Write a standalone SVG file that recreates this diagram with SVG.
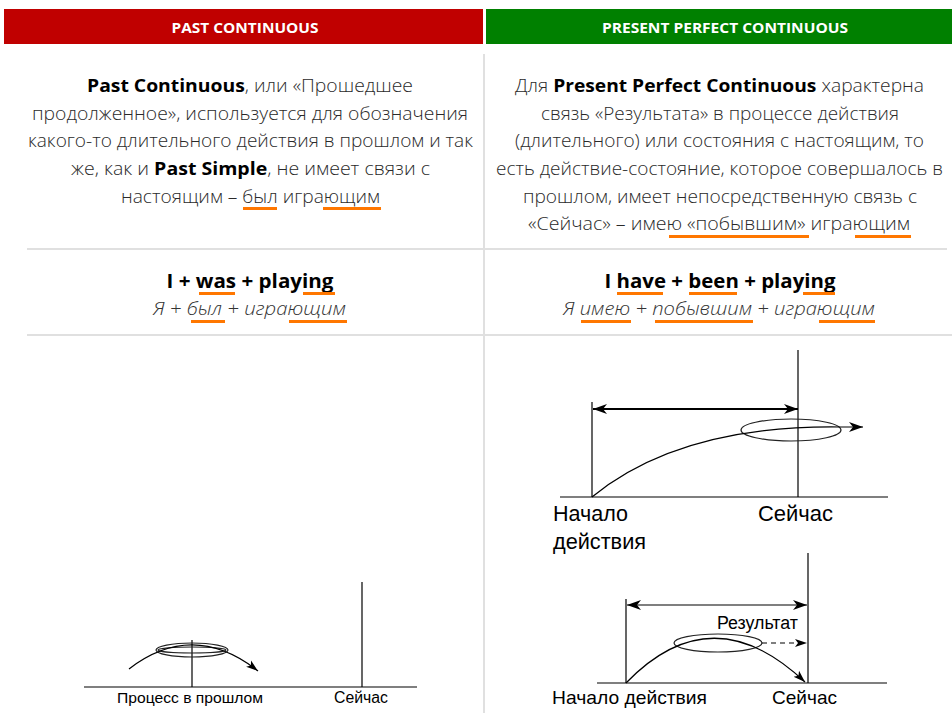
<svg xmlns="http://www.w3.org/2000/svg" width="952" height="713" viewBox="0 0 952 713">
<style>
.hdr{font-family:"Open Sans","Noto Sans",sans-serif;font-weight:bold;font-size:15px;fill:#fff;text-anchor:middle}
.body{font-family:"Open Sans","Noto Sans",sans-serif;font-size:18.5px;font-weight:300;fill:#2a2a2a;text-anchor:middle}
.b{font-weight:bold;fill:#000}
.f1{font-family:"Open Sans","Noto Sans",sans-serif;font-size:20px;font-weight:bold;fill:#000;text-anchor:middle}
.f2{font-family:"Open Sans","Noto Sans",sans-serif;font-size:19px;font-style:italic;font-weight:300;fill:#333;text-anchor:middle}
.ul{fill:#ff7700}
.sep{stroke:#e0e0e0;stroke-width:2;fill:none}
.ln{stroke:#000;stroke-width:1.2;fill:none}
.thk{stroke:#000;stroke-width:2;fill:none}
.ell{stroke:#222;stroke-width:1.2;fill:none}
.lbl{font-family:"Liberation Sans",Arial,sans-serif;fill:#000}
</style>
<defs>
<marker id="ah" markerUnits="userSpaceOnUse" markerWidth="16" markerHeight="12" refX="14" refY="5" orient="auto-start-reverse" viewBox="0 0 16 10">
<path d="M0,0 L14,5 L0,10 L4,5 Z" fill="#000"/>
</marker>
<marker id="ahs" markerUnits="userSpaceOnUse" markerWidth="13" markerHeight="10" refX="12" refY="4" orient="auto" viewBox="0 0 13 8">
<path d="M0,0 L12,4 L0,8 L3,4 Z" fill="#000"/>
</marker>
</defs>

<g id="header-left">
<rect x="4" y="9" width="479" height="35" fill="#c00000"/>
<text class="hdr" x="245" y="33" textLength="147" lengthAdjust="spacingAndGlyphs">PAST CONTINUOUS</text>
</g>
<g id="header-right">
<rect x="486" y="9" width="466" height="35" fill="#008000"/>
<text class="hdr" x="725" y="33" textLength="246" lengthAdjust="spacingAndGlyphs">PRESENT PERFECT CONTINUOUS</text>
</g>

<g id="grid">
<line class="sep" x1="484" y1="54" x2="484" y2="713"/>
<line class="sep" x1="27" y1="249" x2="483" y2="249"/>
<line class="sep" x1="485" y1="249" x2="947" y2="249"/>
<line class="sep" x1="27" y1="335" x2="952" y2="335"/>
</g>

<g id="desc-left">
<text class="body" x="250" y="92" textLength="326" lengthAdjust="spacingAndGlyphs"><tspan class="b">Past Continuous</tspan>, или «Прошедшее</text>
<text class="body" x="250" y="120" textLength="436" lengthAdjust="spacingAndGlyphs">продолженное», используется для обозначения</text>
<text class="body" x="250.5" y="147" textLength="445" lengthAdjust="spacingAndGlyphs">какого-то длительного действия в прошлом и так</text>
<text class="body" x="250.5" y="175" textLength="359" lengthAdjust="spacingAndGlyphs">же, как и <tspan class="b">Past Simple</tspan>, не имеет связи с</text>
<text class="body" x="250.5" y="203" textLength="259" lengthAdjust="spacingAndGlyphs">настоящим – был играющим</text>
<rect class="ul" x="243" y="207" width="34" height="3"/>
<rect class="ul" x="323" y="207" width="58" height="3"/>
</g>

<g id="desc-right">
<text class="body" x="719.5" y="92" textLength="409" lengthAdjust="spacingAndGlyphs">Для <tspan class="b">Present Perfect Continuous</tspan> характерна</text>
<text class="body" x="720" y="120" textLength="358" lengthAdjust="spacingAndGlyphs">связь «Результата» в процессе действия</text>
<text class="body" x="719.5" y="147" textLength="409" lengthAdjust="spacingAndGlyphs">(длительного) или состояния с настоящим, то</text>
<text class="body" x="719.5" y="175" textLength="447" lengthAdjust="spacingAndGlyphs">есть действие-состояние, которое совершалось в</text>
<text class="body" x="720" y="203" textLength="394" lengthAdjust="spacingAndGlyphs">прошлом, имеет непосредственную связь с</text>
<text class="body" x="719" y="230" textLength="382" lengthAdjust="spacingAndGlyphs">«Сейчас» – имею «побывшим» играющим</text>
<rect class="ul" x="669" y="235" width="140" height="3"/>
<rect class="ul" x="855" y="235" width="56" height="3"/>
</g>

<g id="formula-left">
<text class="f1" x="250" y="288" textLength="167" lengthAdjust="spacingAndGlyphs">I + was + playing</text>
<text class="f2" x="249.5" y="315" textLength="193" lengthAdjust="spacingAndGlyphs">Я + был + играющим</text>
<rect class="ul" x="199" y="292" width="36" height="3"/>
<rect class="ul" x="303" y="292" width="32" height="3"/>
<rect class="ul" x="191" y="320" width="34" height="3"/>
<rect class="ul" x="289" y="320" width="58" height="3"/>
</g>

<g id="formula-right">
<text class="f1" x="720" y="288" textLength="231" lengthAdjust="spacingAndGlyphs">I have + been + playing</text>
<text class="f2" x="719" y="315" textLength="312" lengthAdjust="spacingAndGlyphs">Я имею + побывшим + играющим</text>
<rect class="ul" x="617" y="292" width="46" height="3"/>
<rect class="ul" x="689" y="292" width="48" height="3"/>
<rect class="ul" x="803" y="292" width="32" height="3"/>
<rect class="ul" x="581" y="320" width="50" height="3"/>
<rect class="ul" x="655" y="320" width="98" height="3"/>
<rect class="ul" x="819" y="320" width="56" height="3"/>
</g>

<g id="diagram-past">
<line class="ln" x1="84" y1="687" x2="417" y2="687"/>
<line class="ln" x1="362" y1="582" x2="362" y2="687"/>
<line class="ln" x1="192" y1="640" x2="192" y2="687"/>
<ellipse class="ell" cx="192" cy="650" rx="36" ry="7"/>
<ellipse class="ell" cx="192" cy="650" rx="34" ry="3"/>
<path class="ln" d="M129,669 Q193,620 258,671" stroke-width="1" marker-end="url(#ahs)"/>
<text class="lbl" x="190" y="703" font-size="15.5" text-anchor="middle" textLength="146" lengthAdjust="spacingAndGlyphs">Процесс в прошлом</text>
<text class="lbl" x="361" y="703" font-size="16" text-anchor="middle" textLength="54" lengthAdjust="spacingAndGlyphs">Сейчас</text>
</g>

<g id="diagram-ppc-1">
<line class="ln" x1="560" y1="497" x2="888" y2="497"/>
<line class="ln" x1="592" y1="402" x2="592" y2="497"/>
<line class="ln" x1="798" y1="350" x2="798" y2="497"/>
<line class="thk" x1="593" y1="409" x2="798" y2="409" marker-start="url(#ah)" marker-end="url(#ah)"/>
<ellipse class="ell" cx="791" cy="430" rx="50" ry="11"/>
<path class="ln" d="M592,497 Q680,425 840,427 L863,427" stroke-width="1" marker-end="url(#ah)"/>
<text class="lbl" x="553" y="521" font-size="22" textLength="75" lengthAdjust="spacingAndGlyphs">Начало</text>
<text class="lbl" x="553" y="549" font-size="22" textLength="93" lengthAdjust="spacingAndGlyphs">действия</text>
<text class="lbl" x="758" y="521" font-size="22" textLength="75" lengthAdjust="spacingAndGlyphs">Сейчас</text>
</g>

<g id="diagram-ppc-2">
<line class="ln" x1="597" y1="683" x2="887" y2="683"/>
<line class="ln" x1="626" y1="599" x2="626" y2="683"/>
<line class="ln" x1="808" y1="553" x2="808" y2="683"/>
<line class="ln" x1="627" y1="605" x2="807" y2="605" stroke-width="1.6" marker-start="url(#ah)" marker-end="url(#ah)"/>
<ellipse class="ell" cx="718" cy="643" rx="44" ry="9"/>
<path class="ln" d="M626,683 Q712,594 805,682" stroke-width="1" marker-end="url(#ahs)"/>
<line class="ln" x1="762" y1="643" x2="807" y2="643" stroke-dasharray="5,4" marker-end="url(#ahs)"/>
<text class="lbl" x="717" y="629" font-size="18" textLength="81" lengthAdjust="spacingAndGlyphs">Результат</text>
<text class="lbl" x="552" y="704" font-size="19" textLength="155" lengthAdjust="spacingAndGlyphs">Начало действия</text>
<text class="lbl" x="772" y="704" font-size="19" textLength="65" lengthAdjust="spacingAndGlyphs">Сейчас</text>
</g>
</svg>
